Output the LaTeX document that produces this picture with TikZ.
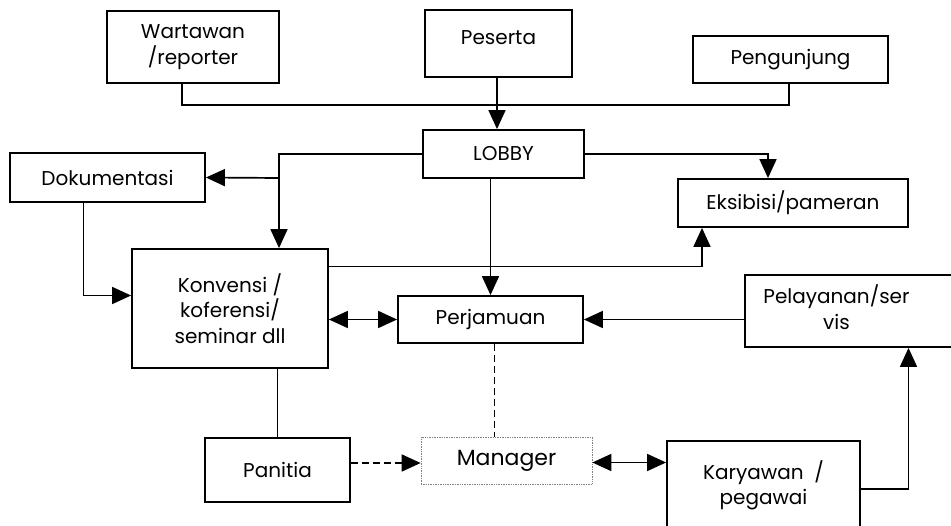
\documentclass[tikz,border=0pt]{standalone}
\usepackage{fontspec}
\setmainfont{Poppins}
\usetikzlibrary{arrows.meta}

\begin{document}
\begin{tikzpicture} [
  x=1pt, y=-1pt,
  every node/.style={font=\fontsize{20}{25.5}\selectfont},
  box/.style={draw, line width=1.8pt, inner sep=0, align=center},
  line/.style={line width=1.7pt},
  arr/.style={line, -{Triangle[length=19pt,width=17pt]}},
  darr/.style={line, {Triangle[length=19pt,width=17pt]}-{Triangle[length=19pt,width=17pt]}},
  dashline/.style={dash pattern=on 7pt off 4pt}
  ]
  \useasboundingbox (0,0) rectangle (951,526);
  \clip (0,0) rectangle (951,526);
  % boxes
  \node [box, minimum width=172pt, minimum height=72pt] (wart) at (193,47) {Wartawan\\/reporter};
  \node [box, minimum width=147pt, minimum height=67pt] (pes) at (498.5,43.5) {Peserta\\[-14pt]~};
  \node [box, minimum width=195pt, minimum height=47pt] (peng) at (790.5,59.5) {Pengunjung};
  \node [box, minimum width=161pt, minimum height=48pt] (lobby) at (503.5,154) {LOBBY};
  \node [box, minimum width=195pt, minimum height=49pt] (dok) at (107.5,177.5) {Dokumentasi};
  \node [box, minimum width=230pt, minimum height=48pt] (eks) at (793,203) {Eksibisi/pameran};
  \node [box, minimum width=196pt, minimum height=119pt] (konv) at (230,308.5) {Konvensi /\\koferensi/\\seminar dll};
  \node [box, minimum width=185pt, minimum height=47pt] (perj) at (490.5,319.5) {Perjamuan};
  \node [box, minimum width=217pt, minimum height=72pt] (pel) at (853.5,311)
    {\begin{tabular}{@{}c@{}}Pelayanan/ser\\vis\end{tabular}\hspace*{34pt}};
  \node [box, draw=gray, line width=0.7pt, densely dotted, minimum width=171pt, minimum height=47pt,
    font=\fontsize{22}{26}\selectfont] (man) at (506.5,460.5) {Manager};
  \node [box, minimum width=145pt, minimum height=64pt] (pan) at (277.5,470) {Panitia};
  \node [box, minimum width=193pt, minimum height=96pt] (kary) at (763.5,489) {Karyawan~~/\\pegawai\\[-13pt]~};

  % connectors
  \coordinate (jtop) at (497,105);
  \coordinate (jdok) at (279,178);
  \draw [line] ([xshift=-11pt]wart.south) |- (jtop);
  \draw [line] ([xshift=-1.5pt]peng.south) |- (jtop);
  \draw [arr] (pes.south -| jtop) -- (lobby.north -| jtop);
  \draw [arr] (lobby.west) -| ([xshift=49pt]konv.north);
  \draw [arr] (jdok) -- (dok.east);
  \draw [arr] (lobby.east) -| ([xshift=-25pt]eks.north);
  \draw [arr] (lobby.south -| perj.north) -- (perj.north);
  \draw [arr] ([xshift=-24pt]dok.south) |- ([yshift=13pt]konv.west);
  \draw [arr] ([yshift=42pt]konv.east) -| ([xshift=-91pt]eks.south);
  \draw [darr] (konv.east |- perj.west) -- (perj.west);
  \draw [arr] (pel.west |- perj.east) -- (perj.east);
  \draw [line, dashline] ([xshift=4pt]perj.south) -- ([xshift=4pt]perj.south |- man.north);
  \draw [line] (konv.south -| pan.north) -- (pan.north);
  \draw [arr, dashline] ([yshift=7pt]pan.east) -- ([yshift=7pt]pan.east -| man.west);
  \draw [darr] ([yshift=-2pt]man.east) -- ([yshift=-2pt]man.east -| kary.west);
  \draw [arr] (kary.east) -| ([xshift=55pt]pel.south);
\end{tikzpicture}
\end{document}
